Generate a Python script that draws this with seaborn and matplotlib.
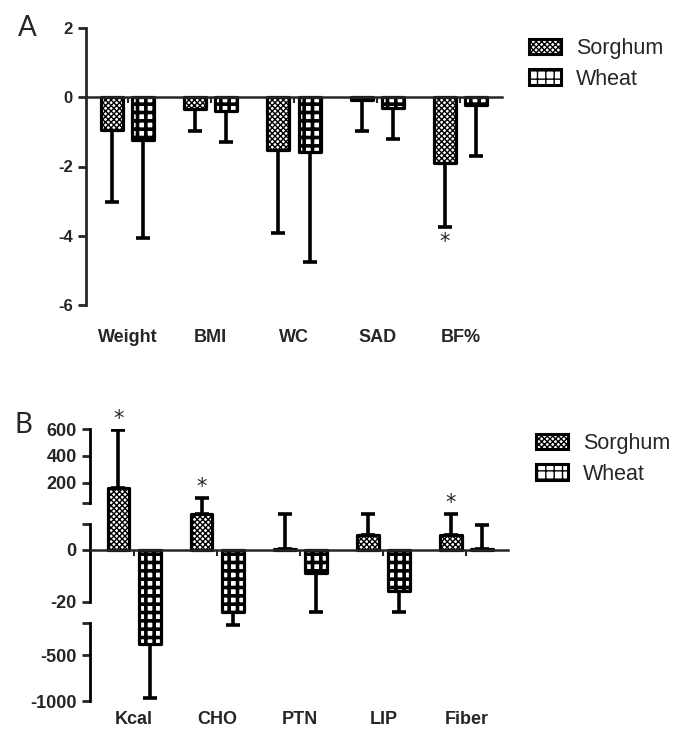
import matplotlib

matplotlib.use("Agg")

import matplotlib.patches as mpatches
import matplotlib.pyplot as plt
import numpy as np
import pandas as pd
import seaborn as sns

GROUPS = ["Sorghum", "Wheat"]

A_LABELS = ["Weight", "BMI", "WC", "SAD", "BF%"]
A_SORGHUM = [-0.95, -0.33, -1.53, -0.09, -1.91]
A_SORGHUM_ERR = [2.07, 0.65, 2.40, 0.88, 1.83]
A_WHEAT = [-1.24, -0.40, -1.58, -0.30, -0.22]
A_WHEAT_ERR = [2.82, 0.89, 3.19, 0.91, 1.47]
A_SIG = [False, False, False, False, True]

B_LABELS = ["Kcal", "CHO", "PTN", "LIP", "Fiber"]
B_SORGHUM = [159, 29, 0.5, 5.8, 5.8]
B_SORGHUM_ERR = [431, 56, 28.5, 23, 23]
B_WHEAT = [-378, -80, -9, -15.6, 0.5]
B_WHEAT_ERR = [589, 92, 71, 68, 9]
B_SIG = [True, True, False, False, True]

# broken y axis of panel B: value -> relative height
B_BREAK_VALUES = [-2000, -1000, -150, -20, 10, 50, 600, 1600]
B_BREAK_HEIGHTS = [-92, 0, 78, 99, 177, 198, 272, 407]
B_SEGMENTS = [(-1000, -150), (-20, 10), (50, 600)]
B_TICKS = [-1000, -500, -150, -20, 0, 10, 50, 200, 400, 600]
B_TICKLABELS = ["-1000", "-500", "", "-20", "0", "", "", "200", "400", "600"]

HATCHES = ["xxxxxx", "++"]
HATCH_LW = [1.0, 2.6]

sns.set_style("ticks")
plt.rcParams["font.family"] = ["Liberation Sans", "DejaVu Sans"]
plt.rcParams["axes.unicode_minus"] = False
plt.rcParams["hatch.linewidth"] = 1.0


def long_frame(labels, sorghum, wheat):
    return pd.DataFrame(
        {
            "item": labels * 2,
            "diet": [GROUPS[0]] * len(labels) + [GROUPS[1]] * len(labels),
            "value": sorghum + wheat,
        }
    )


def style_patch(patch, hatch, hlw):
    patch.set_hatch(hatch)
    patch.set_joinstyle("round")
    if hasattr(patch, "set_hatch_linewidth"):
        patch.set_hatch_linewidth(hlw)


def draw_panel(ax, labels, sorghum, s_err, wheat, w_err, sig, tick_size, label_size, label_pad):
    df = long_frame(labels, sorghum, wheat)
    sns.barplot(
        data=df, x="item", y="value", hue="diet", hue_order=GROUPS,
        palette=["white", "white"], width=0.75, gap=0.3, edgecolor="black",
        linewidth=2.3, errorbar=None, legend=False, ax=ax,
    )
    for container, hatch, hlw, means, errs in zip(
        ax.containers, HATCHES, HATCH_LW, [sorghum, wheat], [s_err, w_err]
    ):
        xs = []
        for bar in container:
            style_patch(bar, hatch, hlw)
            xs.append(bar.get_x() + bar.get_width() / 2)
        lower = [e if m < 0 else 0 for m, e in zip(means, errs)]
        upper = [e if m >= 0 else 0 for m, e in zip(means, errs)]
        ax.errorbar(xs, means, yerr=[lower, upper], fmt="none", ecolor="black",
                    elinewidth=2.6, capsize=5, capthick=2.6, zorder=0.5)
        if means is sorghum:
            for x, m, e, s in zip(xs, means, errs, sig):
                if s:
                    end = m - e if m < 0 else m + e
                    ax.annotate("*", (x, end), xytext=(0, -11 if m < 0 else 8),
                                textcoords="offset points", ha="center", va="center",
                                fontsize=15, family="DejaVu Sans")

    ax.set_xlim(-0.5, 4.5)
    ax.set_xlabel("")
    ax.set_ylabel("")
    for side in ["top", "right"]:
        ax.spines[side].set_visible(False)
    ax.spines["left"].set_linewidth(2)
    ax.spines["bottom"].set_position(("data", 0))
    ax.spines["bottom"].set_linewidth(1.8)
    ax.tick_params(axis="x", length=4, width=1.5, labelbottom=False)
    ax.tick_params(axis="y", length=6, width=2, labelsize=tick_size)

    sec = ax.secondary_xaxis(0.0)
    sec.set_xticks(range(len(labels)), labels)
    sec.spines["bottom"].set_visible(False)
    sec.tick_params(length=0, pad=label_pad, labelsize=label_size)
    for t in sec.get_xticklabels():
        t.set_fontweight("bold")


fig = plt.figure(figsize=(6.75, 7.31), dpi=100)

# panel A
ax_a = fig.add_axes([86 / 675, 1 - 305 / 731, 416 / 675, 277 / 731])
draw_panel(ax_a, A_LABELS, A_SORGHUM, A_SORGHUM_ERR, A_WHEAT, A_WHEAT_ERR, A_SIG, 12, 13, 17)
ax_a.set_ylim(-6, 2)
ax_a.set_yticks([-6, -4, -2, 0, 2])
for t in ax_a.get_yticklabels():
    t.set_fontweight("bold")

# panel B with a broken axis
ax_b = fig.add_axes([90 / 675, 1 - 701 / 731, 418 / 675, 272 / 731])


def forward(v):
    return np.interp(v, B_BREAK_VALUES, B_BREAK_HEIGHTS)


def inverse(h):
    return np.interp(h, B_BREAK_HEIGHTS, B_BREAK_VALUES)


ax_b.set_yscale("function", functions=(forward, inverse))
draw_panel(ax_b, B_LABELS, B_SORGHUM, B_SORGHUM_ERR, B_WHEAT, B_WHEAT_ERR, B_SIG, 13, 13, 7)
ax_b.set_xlim(-0.53, 4.5)
ax_b.set_ylim(-1000, 600)
ax_b.set_yticks(B_TICKS, B_TICKLABELS)
for t in ax_b.get_yticklabels():
    t.set_fontweight("bold")
ax_b.spines["left"].set_visible(False)
for lo, hi in B_SEGMENTS:
    ax_b.plot([0, 0], [lo, hi], color="black", lw=2, clip_on=False,
              solid_capstyle="projecting", transform=ax_b.get_yaxis_transform())

fig.text(27 / 675, 1 - 28 / 731, "A", ha="center", va="center", fontsize=20,
         family=["Lato", "DejaVu Sans"], fontweight="normal")
fig.text(23 / 675, 1 - 425 / 731, "B", ha="center", va="center", fontsize=20,
         family=["Lato", "DejaVu Sans"], fontweight="normal")

for left, top in [(529, 38), (536, 433)]:
    handles = [
        mpatches.Patch(facecolor="white", edgecolor="black", linewidth=2.2, hatch=h)
        for h in HATCHES
    ]
    for h, lw in zip(handles, HATCH_LW):
        style_patch(h, h.get_hatch(), lw)
    fig.legend(handles, GROUPS, loc="upper left", bbox_to_anchor=(left / 675, 1 - top / 731),
               frameon=False, fontsize=15.5, handlelength=1.5, handleheight=0.75,
               handletextpad=0.7, labelspacing=0.45, borderpad=0, borderaxespad=0)

fig.savefig("out.png", dpi=100)
